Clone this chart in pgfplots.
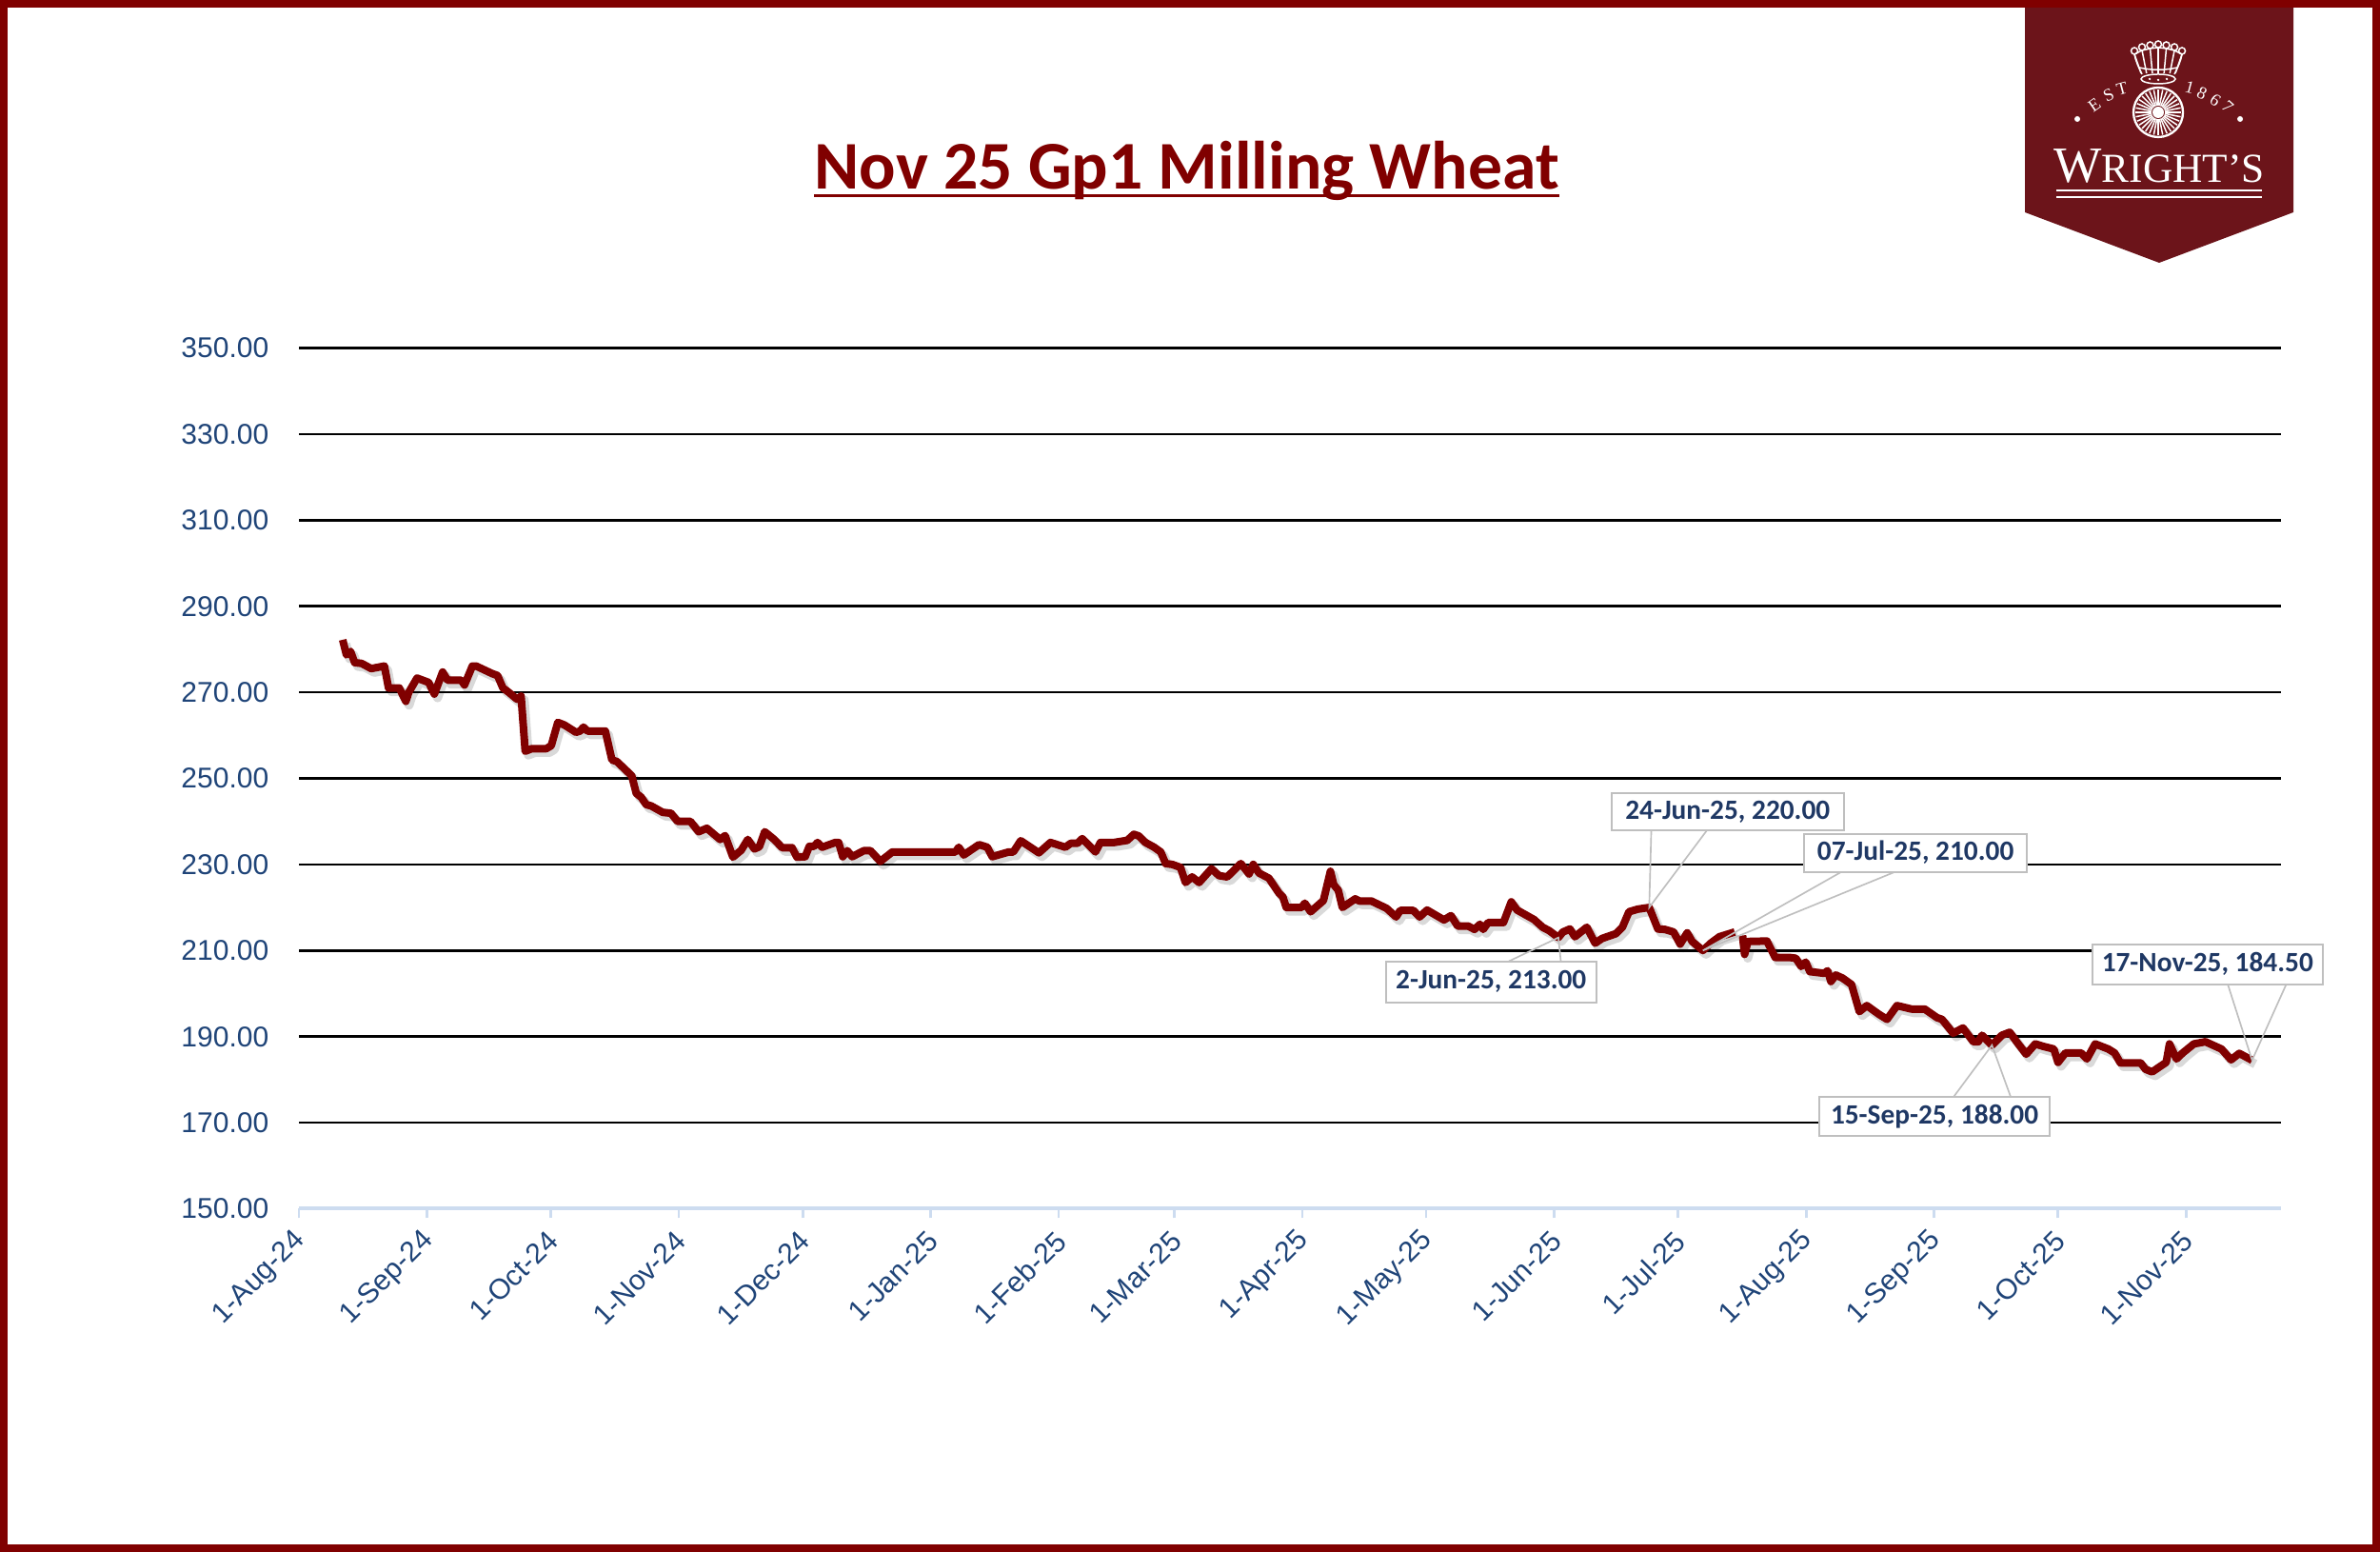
\documentclass[border=0pt]{standalone}
\usepackage{pgfplots}
\pgfplotsset{compat=1.18}
\usepackage{pgfplotstable}
\usepackage{fontspec}
\setmainfont{Liberation Sans}
\newfontfamily\carlito{Carlito}
\newfontfamily\logoserif{Liberation Serif}
\definecolor{wred}{RGB}{128,0,0}
\definecolor{logored}{RGB}{108,20,26}
\definecolor{tickblue}{RGB}{31,68,120}
\definecolor{navy}{RGB}{31,56,100}
\definecolor{axisblue}{RGB}{205,220,240}
\definecolor{calloutgray}{RGB}{191,191,191}

\pgfplotstableread{
d v
10.6 282.2
11.5 278.7
12.5 279.5
13.5 276.9
15.2 276.7
17.5 275.5
20.7 276.1
21.7 271.0
24.3 271.0
25.9 267.9
26.6 270.0
28.6 273.3
31.4 272.3
32.8 269.6
34.8 274.7
36.0 272.8
39.3 272.8
40.1 271.7
42.0 276.1
42.9 276.1
46.9 274.3
48.1 273.9
49.4 271.0
50.8 270.0
52.8 268.4
53.8 269.1
54.8 256.3
56.4 256.9
59.9 256.9
61.1 257.6
62.7 263.0
64.3 262.4
67.1 260.7
68.1 261.0
68.9 261.9
69.9 261.0
74.2 261.0
75.8 254.3
77.0 253.9
80.6 250.6
81.7 246.5
82.9 245.6
84.1 243.9
85.3 243.6
88.1 242.1
90.1 241.9
91.7 240.0
94.8 240.0
96.8 237.6
98.8 238.4
102.0 235.8
103.2 236.7
105.1 231.7
107.1 233.3
108.7 235.8
110.3 233.6
111.5 234.1
112.8 237.6
115.1 235.8
117.0 233.9
119.4 233.9
120.6 231.7
122.6 231.8
123.6 234.2
124.7 234.2
125.6 235.1
126.7 234.0
129.9 235.1
130.7 235.1
131.7 231.8
132.8 233.2
134.0 231.8
136.8 233.2
138.4 233.2
140.8 230.7
143.7 232.9
159.0 232.9
159.8 234.0
161.0 232.2
164.7 234.6
166.7 234.0
167.9 231.8
171.9 232.9
173.0 232.9
174.8 235.5
179.2 232.7
182.0 235.1
185.6 234.0
186.9 234.9
188.5 234.9
189.7 236.0
192.9 232.9
194.1 235.1
197.4 235.1
200.6 235.6
202.2 237.0
203.4 236.6
205.0 235.1
207.1 234.0
208.7 232.9
209.9 230.2
211.5 230.0
213.5 229.3
214.7 225.8
216.3 227.1
218.0 225.8
221.0 229.0
222.8 227.4
224.8 227.1
228.1 230.2
230.1 227.8
231.1 230.0
232.5 228.0
234.9 226.8
237.3 223.4
238.3 222.4
239.1 220.0
242.8 220.0
243.6 221.0
245.0 219.0
248.1 221.6
249.8 228.4
250.6 225.3
251.7 224.0
252.7 220.0
255.8 222.0
256.8 221.5
259.7 221.5
263.4 219.8
265.7 217.8
266.7 219.3
269.9 219.3
271.4 217.8
273.2 219.4
277.3 217.1
279.0 218.1
280.6 215.7
283.1 215.7
284.7 214.9
286.0 216.1
286.8 214.9
288.0 216.5
291.7 216.5
293.6 221.3
295.0 219.4
299.1 217.2
301.2 215.4
302.8 214.6
305.0 213.0
306.1 214.3
307.8 215.0
309.0 213.2
311.9 215.4
313.9 211.7
315.6 212.8
318.9 213.9
320.5 215.4
322.1 219.0
324.2 219.6
327.0 220.0
329.1 215.0
330.8 214.9
332.9 214.3
334.5 211.5
336.2 214.1
337.4 212.1
340.0 210.0
341.9 211.7
344.0 213.2
347.7 214.3
348.6 nan
349.6 213.5
350.1 209.1
350.9 212.1
355.5 212.2
357.5 208.4
360.9 208.4
362.5 208.2
363.8 206.3
364.9 207.3
365.9 205.1
369.4 204.7
370.2 205.3
371.0 202.8
372.2 204.3
373.8 203.6
376.0 202.1
377.9 195.8
379.7 197.2
382.6 195.2
384.6 194.0
387.0 197.2
390.5 196.4
393.7 196.4
396.7 194.4
397.9 194.0
400.6 190.8
403.0 192.0
405.5 188.8
406.7 188.8
407.6 190.3
410.0 188.0
412.4 190.3
414.3 191.0
416.3 188.4
418.3 185.9
420.5 188.3
422.5 187.7
425.0 187.1
426.0 184.0
427.8 186.2
431.6 186.2
433.0 184.8
435.0 188.3
438.2 187.1
439.7 186.2
441.1 183.9
446.0 183.9
447.2 182.4
448.8 181.8
451.1 183.3
452.2 184.0
453.0 188.3
454.7 184.8
456.2 186.2
458.9 188.3
461.7 188.8
465.6 187.1
467.9 184.6
469.9 186.1
473.0 184.5
}\wheat

\begin{document}
\begin{tikzpicture}
\path[use as bounding box] (0,0) rectangle (750pt,489pt);

\begin{axis}[
  at={(94.2pt,108.15pt)}, anchor=south west,
  scale only axis, width=624.6pt, height=271.2pt,
  xmin=0, xmax=480, ymin=150, ymax=350,
  clip=false,
  unbounded coords=jump,
  axis x line*=bottom, axis y line*=left,
  y axis line style={draw=none},
  x axis line style={draw=axisblue, line width=1.2pt, -},
  xtick={0,31,61,92,122,153,184,212,243,273,304,334,365,396,426,457},
  xticklabels={1-Aug-24,1-Sep-24,1-Oct-24,1-Nov-24,1-Dec-24,1-Jan-25,1-Feb-25,1-Mar-25,1-Apr-25,1-May-25,1-Jun-25,1-Jul-25,1-Aug-25,1-Sep-25,1-Oct-25,1-Nov-25},
  ytick={150,170,...,350},
  tick align=outside,
  major tick length=3pt,
  xtick style={draw=axisblue, line width=0.8pt},
  ytick style={draw=none},
  ticklabel style={font=\fontsize{9}{10}\selectfont, text=tickblue},
  /pgf/number format/assume math mode=true,
  yticklabel style={/pgf/number format/fixed, /pgf/number format/fixed zerofill, /pgf/number format/precision=2, xshift=-3pt},
  xticklabel style={yshift=-5.6pt, xshift=0.8pt, rotate=45, anchor=east, inner sep=0pt},
]
\pgfplotsinvokeforeach{170,190,...,350}{
  \draw[black, line width=0.8pt] (axis cs:0,#1) -- (axis cs:480,#1);
}
\addplot[black, opacity=0.15, line width=2.8pt, line join=round, no markers, transform canvas={xshift=1pt,yshift=-1.2pt}] table[x=d,y=v]{\wheat};
\addplot[wred, line width=2.4pt, line join=round, no markers] table[x=d,y=v]{\wheat};

% callouts
\tikzset{cbox/.style={draw=calloutgray, line width=0.6pt, fill=white},
         clead/.style={draw=calloutgray, line width=0.5pt},
         ctext/.style={font=\carlito\bfseries\fontsize{8.8}{10}\selectfont, text=navy, inner sep=0pt}}
% 24-Jun
\draw[clead] (axis cs:327.5,237.83) -- (axis cs:327,220) -- (axis cs:340.9,237.83);
\draw[cbox] (axis cs:317.9,237.83) rectangle (axis cs:374.1,246.65);
\node[ctext] at (axis cs:346,242.24) {24-Jun-25, 220.00};
% 07-Jul
\draw[clead] (axis cs:373.6,228.3) -- (axis cs:340,210) -- (axis cs:386.6,228.3);
\draw[cbox] (axis cs:364.5,228.3) rectangle (axis cs:418.5,237.1);
\node[ctext] at (axis cs:391.5,232.7) {07-Jul-25, 210.00};
% 2-Jun
\draw[clead] (axis cs:293.0,207.5) -- (axis cs:305,213) -- (axis cs:305.6,207.5);
\draw[cbox] (axis cs:263.2,198.0) rectangle (axis cs:314.2,207.5);
\node[ctext] at (axis cs:288.7,202.75) {2-Jun-25, 213.00};
% 15-Sep
\draw[clead] (axis cs:400.8,176.1) -- (axis cs:410,188) -- (axis cs:414.5,176.1);
\draw[cbox] (axis cs:368.2,166.9) rectangle (axis cs:424.0,176.1);
\node[ctext] at (axis cs:396.1,171.5) {15-Sep-25, 188.00};
% 17-Nov
\draw[clead] (axis cs:467.1,202.2) -- (axis cs:473,184.5) -- (axis cs:481.3,202.2);
\draw[cbox] (axis cs:434.3,202.2) rectangle (axis cs:490.1,211.4);
\node[ctext] at (axis cs:462.2,206.8) {17-Nov-25, 184.50};
\end{axis}

% title
\node[anchor=base, inner sep=0pt, text=wred, font=\carlito\bfseries\fontsize{21.5}{26}\selectfont] (title) at (374pt,429.4pt) {Nov 25 Gp1 Milling Wheat};
\draw[wred, line width=0.9pt] ([yshift=-2.1pt]title.base west) -- ([yshift=-2.1pt]title.base east);

% logo and frame, in pixel units of the reference
\begin{scope}[x=0.3pt,y=-0.3pt,shift={(0,489pt)}]
  \fill[logored] (2127,0) -- (2409,0) -- (2409,223) -- (2268,276) -- (2127,223) -- cycle;
  % crown
  \begin{scope}[white, line width=0.45pt]
    \draw (2267,83) ellipse (18 and 5);
    \fill (2258,83) circle (1.3); \fill (2267,84) circle (1.3); \fill (2276,83) circle (1.3);
    \draw (2250,78) .. controls (2246,70) and (2243,63) .. (2242,57);
    \draw (2284,78) .. controls (2288,70) and (2291,63) .. (2292,57);
    \draw (2242,57) -- (2250,53) -- (2258.5,51) -- (2267,50) -- (2275.5,51) -- (2284,53) -- (2292,57);
    \foreach \xx/\yy in {2242/57,2250/53,2258.5/51,2267/50,2275.5/51,2284/53,2292/57}{
      \draw (\xx,\yy-3.5) circle (3.5);
      \draw (\xx,\yy) -- ({2267+(\xx-2267)*0.72},77);
    }
    \draw (2247,71) .. controls (2260,74) and (2274,74) .. (2287,71);
  \end{scope}
  % wheel
  \draw[white, line width=0.7pt] (2267,118) circle (26);
  \foreach \a in {0,11.25,...,348.75}{
    \draw[white, line width=0.45pt] (2267,118) ++(\a:7) -- ++(\a:17);
  }
  \fill[white] (2267,118) circle (6);
  % EST 1867
  \begin{scope}[every node/.style={text=white, inner sep=0pt, font=\logoserif\fontsize{5.5}{6}\selectfont}]
    \node[rotate=35] at (2200,110) {E};
    \node[rotate=25] at (2215,100) {S};
    \node[rotate=15] at (2229,93) {T};
    \node[rotate=-15] at (2300,92) {1};
    \node[rotate=-25] at (2313,98) {8};
    \node[rotate=-35] at (2327,105) {6};
    \node[rotate=-42] at (2340,112) {7};
  \end{scope}
  \fill[white] (2182,125) circle (3);
  \fill[white] (2353,125) circle (3);
  % name
  \node[anchor=base, inner sep=0pt, text=white] at (2268,191.7) {\logoserif\fontsize{16}{16}\selectfont W\fontsize{13}{13}\selectfont RIGHT’S};
  \draw[white, line width=0.8pt] (2160,200) -- (2376,200);
  \draw[white, line width=0.7pt] (2160,207) -- (2376,207);
  % frame
  \draw[wred, line width=2.4pt] (4,4) rectangle (2496,1626);
\end{scope}
\end{tikzpicture}
\end{document}
